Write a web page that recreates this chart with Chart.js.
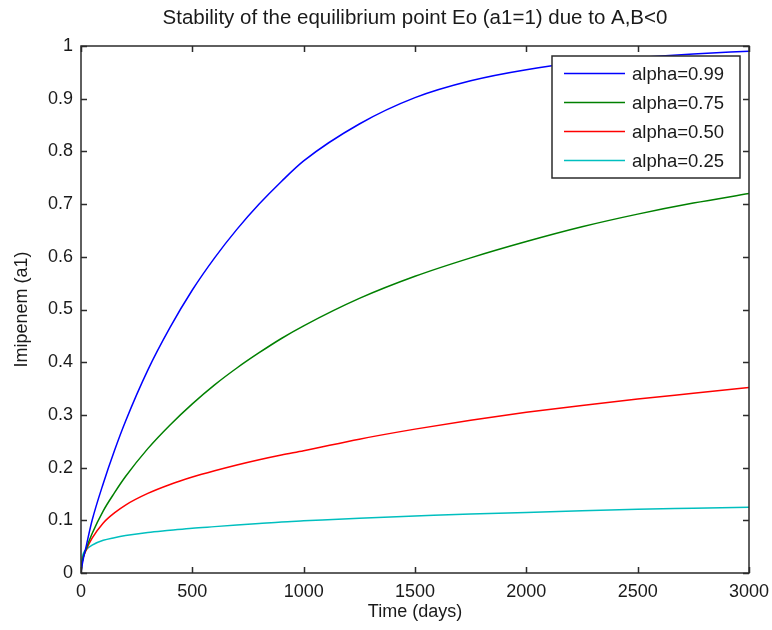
<!DOCTYPE html>
<html>
<head>
<meta charset="utf-8">
<script src="https://cdn.jsdelivr.net/npm/chart.js@4"></script>
<style>
  html, body { margin: 0; padding: 0; background: #fff; }
  #wrap { width: 772px; height: 630px; }
</style>
</head>
<body>
<div id="wrap"><canvas id="c" width="772" height="630"></canvas></div>
<script>
// time points (days) and the four curves
const T_DAYS = [0, 5, 25, 50, 100, 150, 200, 300, 400, 500, 600, 700, 800, 900, 1000, 1250, 1500, 1750, 2000, 2250, 2500, 2750, 3000];
const A099 = [0, 0.015, 0.054, 0.10, 0.17, 0.232, 0.288, 0.385, 0.466, 0.537, 0.598, 0.652, 0.70, 0.743, 0.782, 0.852, 0.902, 0.934, 0.955, 0.969, 0.978, 0.985, 0.99];
const A075 = [0, 0.02, 0.048, 0.075, 0.118, 0.152, 0.183, 0.236, 0.281, 0.321, 0.357, 0.389, 0.418, 0.445, 0.469, 0.521, 0.563, 0.598, 0.629, 0.657, 0.681, 0.702, 0.72];
const A050 = [0, 0.02, 0.045, 0.066, 0.095, 0.114, 0.129, 0.151, 0.168, 0.182, 0.194, 0.205, 0.215, 0.224, 0.232, 0.254, 0.273, 0.29, 0.305, 0.318, 0.33, 0.341, 0.352];
const A025 = [0, 0.028, 0.045, 0.053, 0.062, 0.067, 0.071, 0.077, 0.081, 0.085, 0.088, 0.091, 0.094, 0.097, 0.099, 0.104, 0.108, 0.112, 0.115, 0.118, 0.121, 0.123, 0.125];

const SERIES = [
  { label: 'alpha=0.99', values: A099, color: '#0000ff' },
  { label: 'alpha=0.75', values: A075, color: '#008000' },
  { label: 'alpha=0.50', values: A050, color: '#ff0000' },
  { label: 'alpha=0.25', values: A025, color: '#00bfbf' },
];

const TITLE = 'Stability of the equilibrium point Eo (a1=1) due to A,B<0';
const FONT = 'Arial, "Liberation Sans", sans-serif';
const INK = '#1a1a1a';
const AXIS = '#2b2b2b';

// title centred over the axes, as MATLAB does
const axesTitle = {
  id: 'axesTitle',
  afterDraw(chart) {
    const { ctx, chartArea: a } = chart;
    ctx.save();
    ctx.font = '20.5px ' + FONT;
    ctx.fillStyle = INK;
    ctx.textAlign = 'center';
    ctx.textBaseline = 'middle';
    ctx.fillText(TITLE, (a.left + a.right) / 2, 18);
    ctx.restore();
  },
};

// box round the axes plus inward ticks on all four sides
const boxAxes = {
  id: 'boxAxes',
  afterDatasetsDraw(chart) {
    const { ctx, chartArea: a, scales } = chart;
    const len = 6;
    ctx.save();
    ctx.strokeStyle = AXIS;
    ctx.lineWidth = 1.5;
    ctx.beginPath();
    scales.x.ticks.forEach(t => {
      const px = Math.round(scales.x.getPixelForValue(t.value)) + 0.5;
      ctx.moveTo(px, a.bottom); ctx.lineTo(px, a.bottom - len);
      ctx.moveTo(px, a.top); ctx.lineTo(px, a.top + len);
    });
    scales.y.ticks.forEach(t => {
      const py = Math.round(scales.y.getPixelForValue(t.value)) + 0.5;
      ctx.moveTo(a.left, py); ctx.lineTo(a.left + len, py);
      ctx.moveTo(a.right, py); ctx.lineTo(a.right - len, py);
    });
    ctx.stroke();
    ctx.strokeRect(a.left, a.top, a.right - a.left, a.bottom - a.top);
    ctx.restore();
  },
};

// legend box in the upper right corner, inside the axes
const insideLegend = {
  id: 'insideLegend',
  afterDraw(chart) {
    const { ctx, chartArea: a } = chart;
    const w = 188, h = 122;
    const x0 = a.right - 9 - w, y0 = a.top + 10;
    ctx.save();
    ctx.fillStyle = '#fff';
    ctx.fillRect(x0, y0, w, h);
    ctx.strokeStyle = AXIS;
    ctx.lineWidth = 1.5;
    ctx.strokeRect(x0, y0, w, h);
    ctx.font = '18.5px ' + FONT;
    ctx.textBaseline = 'middle';
    ctx.textAlign = 'left';
    chart.data.datasets.forEach((ds, i) => {
      const y = y0 + 17.5 + i * 29;
      ctx.strokeStyle = ds.borderColor;
      ctx.lineWidth = 1.5;
      ctx.beginPath();
      ctx.moveTo(x0 + 12, y); ctx.lineTo(x0 + 73, y);
      ctx.stroke();
      ctx.fillStyle = INK;
      ctx.fillText(ds.label, x0 + 80, y + 1);
    });
    ctx.restore();
  },
};

new Chart(document.getElementById('c'), {
  type: 'line',
  data: {
    labels: T_DAYS,
    datasets: SERIES.map(s => ({
      label: s.label,
      data: T_DAYS.map((t, i) => ({ x: t, y: s.values[i] })),
      borderColor: s.color,
      backgroundColor: s.color,
      borderWidth: 1.5,
      pointRadius: 0,
      cubicInterpolationMode: 'monotone',
      fill: false,
    })),
  },
  options: {
    responsive: false,
    animation: false,
    layout: { padding: { top: 46, right: 23, bottom: 0, left: 0 } },
    plugins: {
      legend: { display: false },
      tooltip: { enabled: false },
      title: { display: false },
    },
    scales: {
      x: {
        type: 'linear',
        min: 0,
        max: 3000,
        afterFit: s => { s.height = 57; s.paddingLeft = 0; s.paddingRight = 0; },
        grid: { display: false, drawTicks: false },
        border: { display: false },
        ticks: { stepSize: 500, color: INK, padding: 8, maxRotation: 0, font: { family: FONT, size: 18 }, callback: v => String(v) },
        title: { display: true, text: 'Time (days)', color: INK, font: { family: FONT, size: 18 }, padding: { top: 0, bottom: 7 } },
      },
      y: {
        min: 0,
        max: 1,
        afterFit: s => { s.width = 81; s.paddingTop = 0; s.paddingBottom = 0; },
        grid: { display: false, drawTicks: false },
        border: { display: false },
        ticks: { stepSize: 0.1, color: INK, padding: 8, font: { family: FONT, size: 18 }, callback: v => String(+v.toFixed(1)) },
        title: { display: true, text: 'Imipenem (a1)', color: INK, font: { family: FONT, size: 18 }, padding: { top: 11, bottom: 0 } },
      },
    },
  },
  plugins: [boxAxes, insideLegend, axesTitle],
});
</script>
</body>
</html>
